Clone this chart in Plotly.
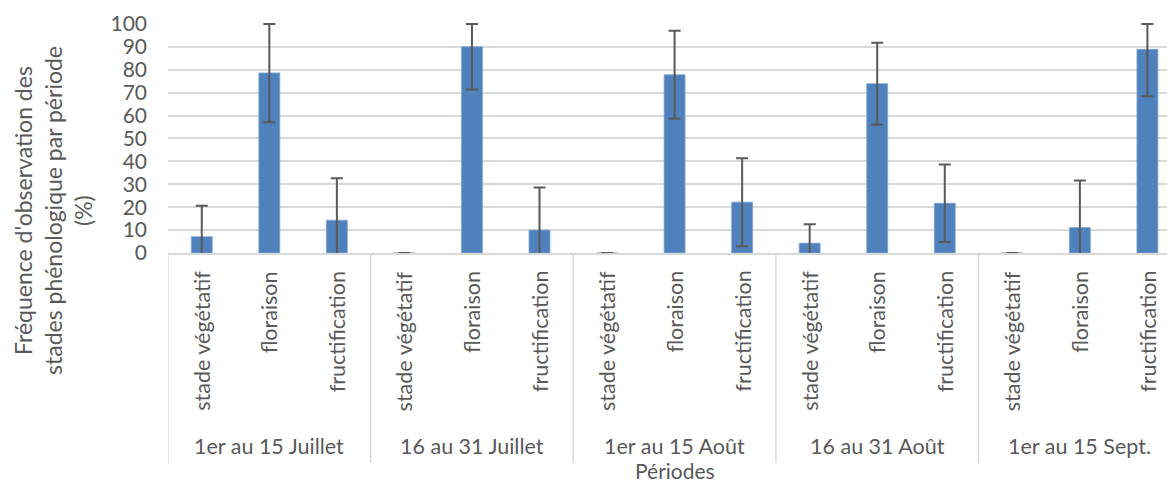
import plotly.graph_objects as go

# Periods (outer category level) and phenological stages (inner level)
periodes = ["1er au 15 Juillet", "16 au 31 Juillet", "1er au 15 Août", "16 au 31 Août", "1er au 15 Sept."]
stades = ["stade végétatif", "floraison", "fructification"]

# Observation frequency (%) per stage, one value per period
vegetatif = [7.1, 0, 0, 4.3, 0]
floraison = [78.6, 90, 77.8, 73.9, 11.1]
fructification = [14.3, 10, 22.2, 21.7, 88.9]

# Error bar half-lengths (%)
err_vegetatif = [13.5, 0, 0, 8.3, 0]
err_floraison = [21.5, 18.6, 19.2, 17.9, 20.5]
err_fructification = [18.3, 18.6, 19.2, 16.9, 20.5]

Y_MAX = 100
yticks = list(range(0, 101, 10))

# Flatten into one bar per (period, stage)
series = [vegetatif, floraison, fructification]
errors = [err_vegetatif, err_floraison, err_fructification]
values, errs, inner_labels = [], [], []
for g in range(len(periodes)):
    for s in range(len(stades)):
        values.append(series[s][g])
        errs.append(errors[s][g])
        inner_labels.append(stades[s])
xpos = list(range(len(values)))
err_up = [min(e, Y_MAX - v) for v, e in zip(values, errs)]

W, H = 1167, 483
ML, MT, MB = 168, 23, 230
plot_h = H - MT - MB


def py(p):
    """Paper y coordinate from a pixel row."""
    return (H - MB - p) / plot_h


def px(p):
    """Paper x coordinate from a pixel column."""
    return (p - ML) / (W - ML)


FONT = "Lato, Calibri, Arial, sans-serif"
GRAY = "#595959"
LINE = "#D9D9D9"
LABEL_SIZE = 21.5

fig = go.Figure(
    go.Bar(
        x=xpos,
        y=values,
        width=0.31,
        marker=dict(color="#4F81BD", line=dict(color="#7FA3D1", width=0.8)),
        error_y=dict(
            type="data",
            symmetric=False,
            array=err_up,
            arrayminus=errs,
            color=GRAY,
            thickness=2,
            width=6,
        ),
        hoverinfo="skip",
    )
)

annotations = []
for i, lab in enumerate(inner_labels):
    annotations.append(dict(
        x=i, xref="x", y=py(269), yref="paper", text=lab, textangle=-90,
        xanchor="center", yanchor="top", showarrow=False,
        font=dict(family=FONT, size=LABEL_SIZE, color=GRAY),
    ))
for g, per in enumerate(periodes):
    annotations.append(dict(
        x=3 * g + 1, xref="x", y=py(446), yref="paper", text=per,
        xanchor="center", yanchor="middle", showarrow=False,
        font=dict(family=FONT, size=LABEL_SIZE, color=GRAY),
    ))
annotations.append(dict(
    x=7, xref="x", y=py(470), yref="paper", text="Périodes",
    xanchor="center", yanchor="middle", showarrow=False, borderpad=0,
    font=dict(family=FONT, size=21, color=GRAY),
))
for line_text, cx in [("Fréquence d'observation des", 23),
                      ("stades phénologique par période", 53),
                      ("(%)", 83)]:
    annotations.append(dict(
        x=px(cx), xref="paper", y=py(211), yref="paper", text=line_text,
        textangle=-90, xanchor="center", yanchor="middle", showarrow=False,
        font=dict(family=FONT, size=23, color=GRAY),
    ))

shapes = []
for g in range(len(periodes)):
    shapes.append(dict(
        type="line", xref="x", yref="paper", x0=3 * g - 0.5, x1=3 * g - 0.5,
        y0=0, y1=py(463), line=dict(color=LINE, width=1.5),
    ))

fig.update_layout(
    width=W, height=H,
    margin=dict(l=ML, r=0, t=MT, b=MB, pad=0),
    plot_bgcolor="white", paper_bgcolor="white",
    showlegend=False,
    annotations=annotations,
    shapes=shapes,
    font=dict(family=FONT, color=GRAY),
    xaxis=dict(
        range=[-0.5, 14.29], showticklabels=False, showgrid=False,
        zeroline=False, showline=True, linecolor=LINE, linewidth=1.5,
        ticks="", fixedrange=True,
    ),
    yaxis=dict(
        range=[0, 100.4], tickvals=yticks, showgrid=True, gridcolor=LINE,
        gridwidth=1.5, zeroline=False, showline=False, ticks="",
        ticklabelstandoff=20, tickfont=dict(family=FONT, size=21, color=GRAY),
        fixedrange=True,
    ),
)

fig.write_html("out.html")
